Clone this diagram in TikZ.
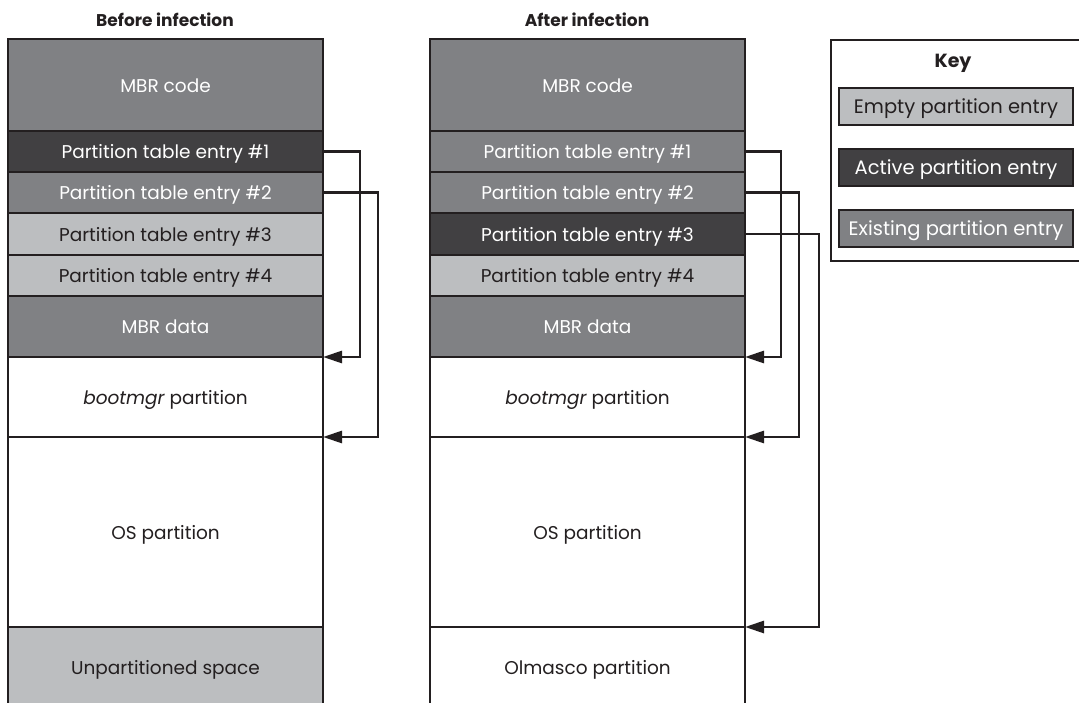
\documentclass[tikz,border=0pt]{standalone}
\usepackage{fontspec}
\setmainfont{Poppins}
\usetikzlibrary{arrows.meta,calc}
\definecolor{ink}{HTML}{231F20}
\definecolor{midg}{HTML}{808184}
\definecolor{darkg}{HTML}{414042}
\definecolor{lightg}{HTML}{BCBEC0}
\tikzset{
  cell/.style={draw=ink, line width=2.8pt, minimum width=315pt, inner sep=0pt, outer sep=0pt, anchor=north west,
    font=\fontsize{18.5}{21}\selectfont, text height=15pt, text depth=0.5pt},
  existing/.style={cell, fill=midg, text=white},
  active/.style={cell, fill=darkg, text=white},
  empty/.style={cell, fill=lightg, text=ink},
  plain/.style={cell, fill=white, text=ink},
  lastcell/.style={cell, draw=none},
  title/.style={font=\fontsize{17}{20}\selectfont\bfseries, text=ink},
  keyentry/.style={draw=ink, line width=2.6pt, minimum width=234pt, minimum height=37pt, inner sep=0pt, outer sep=0pt,
    anchor=north west, font=\fontsize{19.5}{23}\selectfont, text height=15pt, text depth=1.5pt},
  arr/.style={draw=ink, line width=2.8pt, -{Triangle[length=19pt,width=12pt]}},
  side/.style={draw=ink, line width=2.8pt}
}
\begin{document}
\begin{tikzpicture}[x=1pt,y=-1pt]
\useasboundingbox (0,0) rectangle (1079,703);
% ---------- titles
\node[title] (tbefore) at (165,20) {Before infection};
\node[title] (tafter) at (587,20) {After infection};
% ---------- left column
\node[lastcell, fill=lightg, text=ink, minimum height=80pt] (Lun) at (8,627) {Unpartitioned space};
\node[existing, minimum height=92pt] (Lcode) at (8,39) {MBR code};
\node[active, minimum height=41pt] (L1) at (8,131) {Partition table entry \#1};
\node[existing, minimum height=41pt] (L2) at (8,172) {Partition table entry \#2};
\node[empty, minimum height=42pt] (L3) at (8,213) {Partition table entry \#3};
\node[empty, minimum height=41pt] (L4) at (8,255) {Partition table entry \#4};
\node[existing, minimum height=61pt] (Ldata) at (8,296) {MBR data};
\node[plain, minimum height=80pt] (Lboot) at (8,357) {\itshape bootmgr\upshape{} partition};
\node[plain, minimum height=190pt] (Los) at (8,437) {OS partition};
\draw[side] (Lun.north west) -- (Lun.south west);
\draw[side] (Lun.north east) -- (Lun.south east);
\draw[side] (Los.south west) -- (Los.south east);
% left arrows
\draw[arr] (L1.east) -- ++(37,0) |- (Ldata.south east);
\draw[arr] (L2.east) -- ++(55,0) |- (Lboot.south east);
% ---------- right column
\node[lastcell, fill=white, text=ink, minimum height=80pt] (Rolm) at (430,627) {Olmasco partition};
\node[existing, minimum height=92pt] (Rcode) at (430,39) {MBR code};
\node[existing, minimum height=41pt] (R1) at (430,131) {Partition table entry \#1};
\node[existing, minimum height=41pt] (R2) at (430,172) {Partition table entry \#2};
\node[active, minimum height=42pt] (R3) at (430,213) {Partition table entry \#3};
\node[empty, minimum height=41pt] (R4) at (430,255) {Partition table entry \#4};
\node[existing, minimum height=61pt] (Rdata) at (430,296) {MBR data};
\node[plain, minimum height=80pt] (Rboot) at (430,357) {\itshape bootmgr\upshape{} partition};
\node[plain, minimum height=190pt] (Ros) at (430,437) {OS partition};
\draw[side] (Rolm.north west) -- (Rolm.south west);
\draw[side] (Rolm.north east) -- (Rolm.south east);
\draw[side] (Ros.south west) -- (Ros.south east);
% right arrows
\draw[arr] (R1.east) -- ++(36,0) |- (Rdata.south east);
\draw[arr] (R2.east) -- ++(54,0) |- (Rboot.south east);
\draw[arr] (R3.east) -- ++(74,0) |- (Ros.south east);
% ---------- key
\node[draw=ink, line width=2.6pt, minimum width=254pt, minimum height=221pt, anchor=north west, inner sep=0pt, outer sep=0pt] (keybox) at (831,40) {};
\node[title, font=\fontsize{19}{22}\selectfont\bfseries] (keytitle) at (953,63) {Key};
\node[keyentry, fill=lightg, text=ink] (kempty) at (839,88) {Empty partition entry};
\node[keyentry, fill=darkg, text=white] (kactive) at (839,149) {Active partition entry};
\node[keyentry, fill=midg, text=white] (kexist) at (839,210) {Existing partition entry};
\end{tikzpicture}
\end{document}
